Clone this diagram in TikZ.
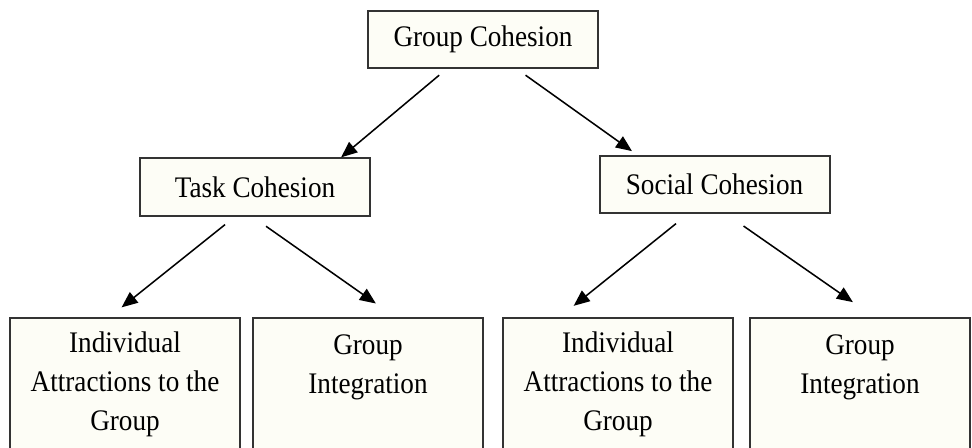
\documentclass[tikz,border=0pt]{standalone}
\usepackage{fontspec}
\setmainfont{Liberation Serif}[FakeStretch=0.91]
\usepackage{tikz}
\usetikzlibrary{arrows.meta}
\definecolor{boxfill}{RGB}{253,253,246}

\begin{document}
\begin{tikzpicture}[x=0.75pt,y=-0.75pt,
    box/.style={draw=black!80,line width=1.5pt,fill=boxfill,inner sep=2pt,align=center,font=\fontsize{22.4}{29.25}\selectfont},
    headbox/.style={box,minimum width=172.5pt,minimum height=43pt},
    leafbox/.style={box,minimum width=172.5pt,minimum height=99pt},
    arr/.style={line width=1.15pt,-{Triangle[length=12pt,width=10pt]}}]
      \useasboundingbox (0,0) rectangle (972,447);
      \clip (0,0) rectangle (972,447);
      \node[headbox](groupcoh) at (483,39.5){Group Cohesion};
      \node[headbox](taskcoh) at (255,187){Task Cohesion};
      \node[headbox](socialcoh) at (714.5,184.5){Social Cohesion};
      \node[leafbox](taskind) at (125,384){Individual\\Attractions to the\\Group};
      \node[leafbox](taskint) at (368,384){Group\\Integration\\\mbox{}};
      \node[leafbox](socind) at (618,384){Individual\\Attractions to the\\Group};
      \node[leafbox,minimum width=165pt](socint) at (860,384){Group\\Integration\\\mbox{}};
      \draw[arr,shorten <=7pt] (groupcoh.219) -- (taskcoh.19);
      \draw[arr,shorten <=7.8pt,shorten >=4.8pt] (groupcoh.319) -- (socialcoh.159);
      \draw[arr,shorten <=9.5pt,shorten >=11.6pt] (taskcoh.236) -- (taskind.103);
      \draw[arr,shorten <=12.5pt,shorten >=17.6pt] (taskcoh.265) -- (taskint.68);
      \draw[arr,shorten <=11.3pt,shorten >=13.4pt] (socialcoh.228) -- (socind.131);
      \draw[arr,shorten <=15.6pt,shorten >=19.5pt] (socialcoh.292) -- (socint.78);
    \end{tikzpicture}
\end{document}
